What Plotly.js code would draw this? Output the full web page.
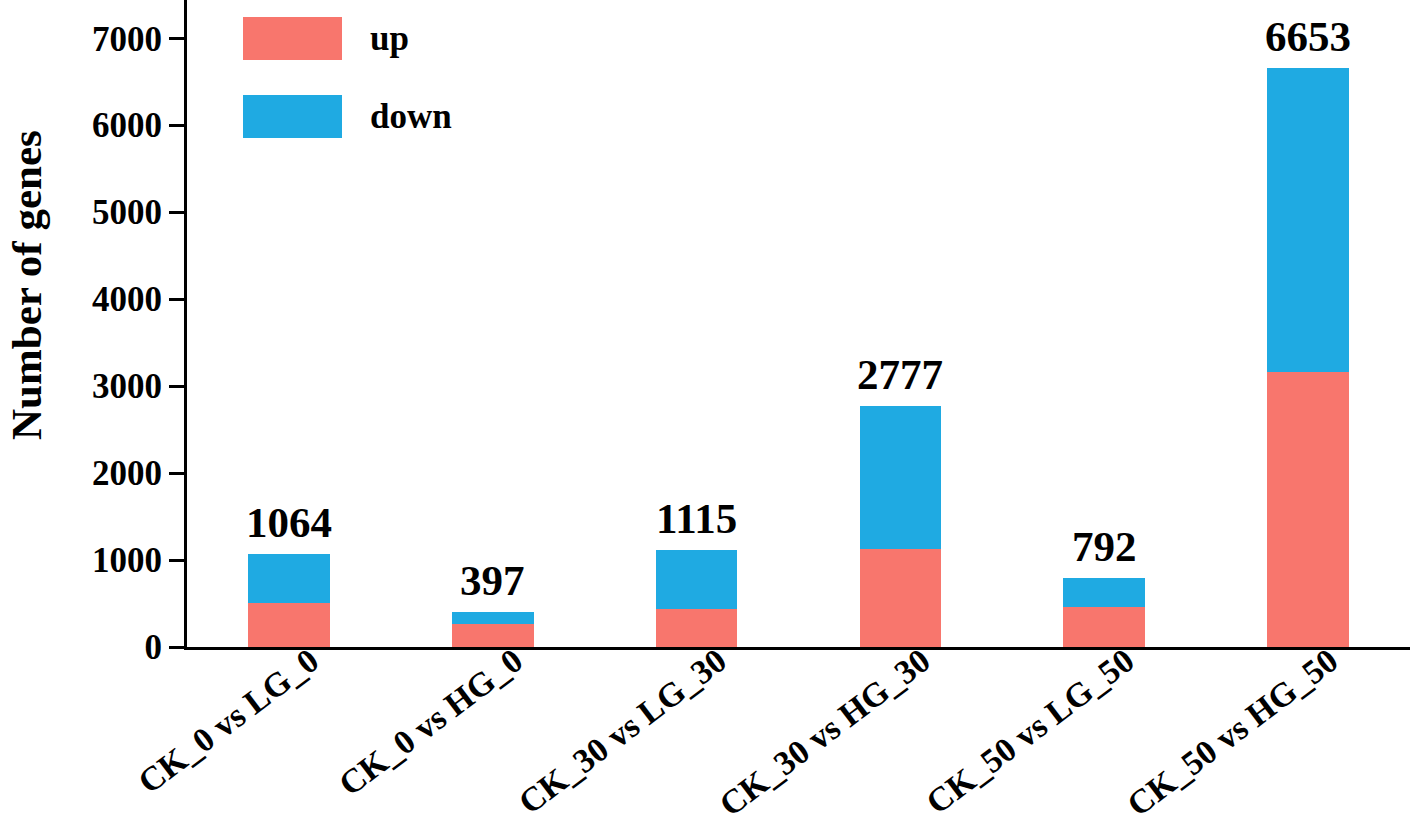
<!DOCTYPE html>
<html>
<head>
<meta charset="utf-8">
<script src="https://cdn.plot.ly/plotly-3.0.1.min.js"></script>
<style>
  html, body { margin: 0; padding: 0; background: #fff; }
  #chart { width: 1416px; height: 837px; }
</style>
</head>
<body>
<div id="chart"></div>
<script>
// comparisons on the x axis
var comparisons = ['CK_0 vs LG_0', 'CK_0 vs HG_0', 'CK_30 vs LG_30',
  'CK_30 vs HG_30', 'CK_50 vs LG_50', 'CK_50 vs HG_50'];

// gene counts
var upGenes   = [504, 267, 435, 1127, 456, 3165];
var downGenes = [560, 130, 680, 1650, 336, 3488];
var totals    = [1064, 397, 1115, 2777, 792, 6653];

var yTicks = [0, 1000, 2000, 3000, 4000, 5000, 6000, 7000];

var upColor = '#F8766D';
var downColor = '#1FAAE2';
var serif = 'Liberation Serif, Times New Roman, serif';

var traces = [
  {
    x: comparisons, y: upGenes, name: 'up', type: 'bar',
    marker: { color: upColor }, width: 0.4, hoverinfo: 'x+y'
  },
  {
    x: comparisons, y: downGenes, name: 'down', type: 'bar',
    marker: { color: downColor }, width: 0.4, hoverinfo: 'x+y'
  }
];

var annotations = [];
for (var i = 0; i < comparisons.length; i++) {
  annotations.push({
    x: comparisons[i],
    y: totals[i],
    text: String(totals[i]),
    showarrow: false,
    yanchor: 'bottom',
    yshift: 6,
    font: { family: serif, size: 43, color: '#000', weight: 'bold' }
  });
}

// hand-made legend with large swatches
var legendNames = ['up', 'down'];
var legendColors = [upColor, downColor];
var shapes = [];
for (var j = 0; j < legendNames.length; j++) {
  var boxTop = 1 - (17 + j * 78) / 647;
  var boxBottom = 1 - (60 + j * 78) / 647;
  shapes.push({
    type: 'rect', xref: 'paper', yref: 'paper',
    x0: (243 - 187) / 1223, x1: (342 - 187) / 1223,
    y0: boxBottom, y1: boxTop,
    fillcolor: legendColors[j], line: { width: 0 }
  });
  annotations.push({
    xref: 'paper', yref: 'paper',
    x: (368 - 187) / 1223, y: (boxTop + boxBottom) / 2,
    xanchor: 'left', yanchor: 'middle',
    text: legendNames[j], showarrow: false,
    font: { family: serif, size: 35, color: '#000', weight: 'bold' }
  });
}

// y axis title, sitting a bit above the middle as in the figure
annotations.push({
  xref: 'paper', yref: 'paper',
  x: (26 - 187) / 1223, y: 1 - 285 / 647,
  xanchor: 'center', yanchor: 'middle',
  textangle: -90,
  text: 'Number of genes', showarrow: false,
  font: { family: serif, size: 43, color: '#000', weight: 'bold' }
});

var layout = {
  width: 1416,
  height: 837,
  margin: { l: 187, r: 6, t: 0, b: 190 },
  paper_bgcolor: '#fff',
  plot_bgcolor: '#fff',
  showlegend: false,
  barmode: 'stack',
  font: { family: serif, color: '#000' },
  xaxis: {
    range: [-0.5, 5.5],
    showline: true,
    linecolor: '#000',
    linewidth: 3,
    showgrid: false,
    zeroline: false,
    ticks: '',
    tickangle: -37,
    ticklabelshift: 22,
    ticklabelstandoff: -22,
    tickfont: { family: serif, size: 34, color: '#000', weight: 'bold' }
  },
  yaxis: {
    range: [0, 7440],
    tickvals: yTicks,
    showline: true,
    linecolor: '#000',
    linewidth: 3,
    showgrid: false,
    zeroline: false,
    ticks: 'outside',
    ticklen: 15,
    tickwidth: 3,
    tickcolor: '#000',
    tickfont: { family: serif, size: 35, color: '#000', weight: 'bold' }
  },
  annotations: annotations,
  shapes: shapes
};

Plotly.newPlot('chart', traces, layout, { displayModeBar: false, staticPlot: true });
</script>
</body>
</html>
